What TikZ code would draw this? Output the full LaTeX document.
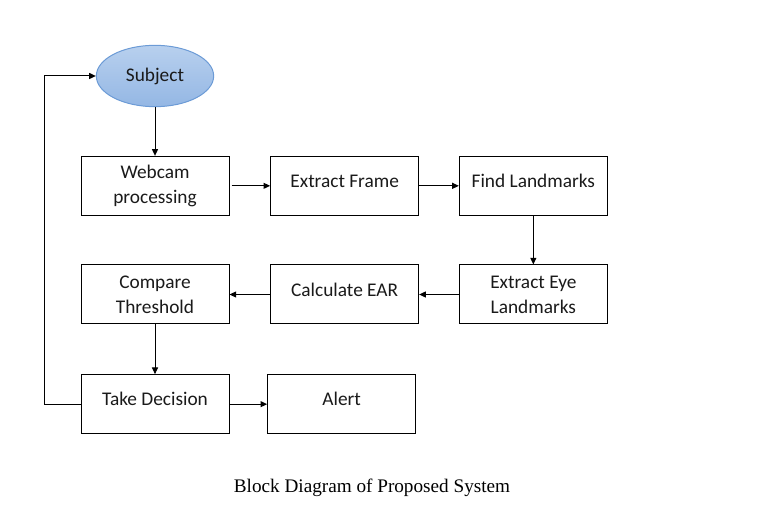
\documentclass[tikz,border=0pt]{standalone}
\usepackage{fontspec}
\setsansfont{Carlito}
\newfontfamily\capfont{Liberation Serif}
\usetikzlibrary{arrows.meta,positioning,shapes.geometric}
\definecolor{ink}{HTML}{000000}
\definecolor{textink}{HTML}{1A1A1A}
\definecolor{bluetop}{HTML}{B8D0EE}
\definecolor{bluebot}{HTML}{94B7E4}
\definecolor{blueline}{HTML}{6C9BD6}
\tikzset{
  every node/.style={font=\sffamily\fontsize{14.5}{18.75}\selectfont, text=textink},
  box/.style={draw=ink, line width=0.75pt, fill=white, align=center, minimum width=111pt, minimum height=44.25pt, inner sep=2pt},
  onebox/.style={box, text depth=7.5pt},
  subjectnode/.style={ellipse, draw=blueline, line width=0.75pt, top color=bluetop, bottom color=bluebot, minimum width=88pt, minimum height=46pt},
  arrow/.style={-{Triangle[length=5pt,width=4.5pt]}, line width=0.75pt, draw=ink},
  caption/.style={font=\capfont\fontsize{14.4}{17}\selectfont, text=black},
}
\begin{document}
\begin{tikzpicture}
\useasboundingbox (0,0) rectangle (579pt,-387pt);
\node[subjectnode] (subj) at (116.25pt,-57pt) {Subject};
\node[box, below=36.5pt of subj] (web) {Webcam\\processing};
\node[onebox, right=30.5pt of web] (frame) {Extract Frame};
\node[onebox, right=29.75pt of frame] (find) {Find Landmarks};
\node[box, below=36.5pt of find] (eye) {Extract Eye\\Landmarks};
\node[onebox, left=29.75pt of eye] (ear) {Calculate EAR};
\node[box, left=30.5pt of ear] (cmp) {Compare\\Threshold};
\node[onebox, below=37.25pt of cmp] (dec) {Take Decision};
\node[onebox, right=28.25pt of dec] (alert) {Alert};
\coordinate (back) at ([xshift=-27pt]dec.west);
\node[caption] (cap) at (279pt,-366pt) {Block Diagram of Proposed System};
\draw[arrow](subj)--(web);\draw[arrow,shorten <=1.5pt](web)--(frame);\draw[arrow](frame)--(find);\draw[arrow](find)--(eye);\draw[arrow](eye)--(ear);\draw[arrow](ear)--(cmp);\draw[arrow](cmp)--(dec);\draw[arrow](dec)--(alert);
\draw[arrow](dec.west)--(back)|-(subj.west);
\end{tikzpicture}
\end{document}
